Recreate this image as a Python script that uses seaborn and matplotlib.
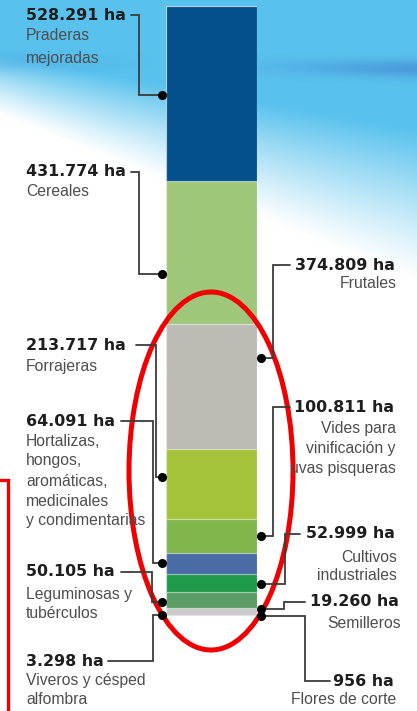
import numpy as np
import pandas as pd
import matplotlib
matplotlib.use("Agg")
import matplotlib.pyplot as plt
from matplotlib.patches import Ellipse
import seaborn as sns

# ---------------- data ----------------
categories = ["Praderas mejoradas", "Cereales", "Frutales", "Forrajeras",
              "Vides para vinificación y uvas pisqueras",
              "Hortalizas, hongos, aromáticas, medicinales y condimentarias",
              "Cultivos industriales", "Leguminosas y tubérculos",
              "Semilleros", "Viveros y césped alfombra", "Flores de corte"]
hectares = [528291, 431774, 374809, 213717, 100811, 64091, 52999, 50105,
            19260, 3298, 956]
label_lines = [["Praderas", "mejoradas"], ["Cereales"], ["Frutales"], ["Forrajeras"],
               ["Vides para", "vinificación y", "uvas pisqueras"],
               ["Hortalizas,", "hongos,", "aromáticas,", "medicinales", "y condimentarias"],
               ["Cultivos", "industriales"], ["Leguminosas y", "tubérculos"],
               ["Semilleros"], ["Viveros y césped", "alfombra"], ["Flores de corte"]]
colors = ["#03508c", "#9ec77b", "#bcbcb4", "#a5c23b", "#80b64c", "#4b6ba6",
          "#1f9b4b", "#5b9b66", "#cacaca", "#b9b9b9", "#b0b0b0"]

# ---------------- layout (pixels) ----------------
W, H = 417, 711
# side, text x, value y, label ys, line start x, elbow x, anchor fraction in segment
layout = {
    "Praderas mejoradas": ("L", 26, 15, [35, 58], 131, 139, 0.51),
    "Cereales": ("L", 26, 172, [191], 131, 139, 0.65),
    "Frutales": ("R", 395, 265, [284], 290, 273, 0.27),
    "Forrajeras": ("L", 26, 345, [366], 136, 156, 0.40),
    "Vides para vinificación y uvas pisqueras": ("R", 394, 407, [429, 449, 469], 290, 273, 0.50),
    "Hortalizas, hongos, aromáticas, medicinales y condimentarias": ("L", 26, 421, [441, 461, 481, 501, 521], 121, 153, 0.50),
    "Cultivos industriales": ("R", 395, 534, [557, 576], 300, 285, 0.55),
    "Leguminosas y tubérculos": ("L", 26, 572, [594, 614], 121, 152, 0.60),
    "Semilleros": ("R", 399, 602, [623], 305, 284, 0.20),
    "Viveros y césped alfombra": ("L", 26, 661, [680, 700], 108, 153, 0.50),
    "Flores de corte": ("R", 394, 681, [700], 330, 305, 0.50),
}

sns.set_theme(style="white")
fig = plt.figure(figsize=(W / 100, H / 100), dpi=100)

# ---------------- background gradient ----------------
bg = fig.add_axes([0, 0, 1, 1], zorder=0)
yy, xx = np.mgrid[0:H, 0:W].astype(float)
y0 = 55 + 0.18 * xx
L = 60 + 0.22 * xx
a = np.clip(1 - (yy - y0) / L, 0, 1)
a = a ** 1.2
blue = np.array([0.35, 0.76, 0.93])
img = np.ones((H, W, 3)) * (1 - a[..., None]) + blue * a[..., None]
band = np.exp(-((yy - (64 + 0.01 * xx)) / 9.0) ** 2) * np.clip((xx - 230) / 180, 0, 1) * 0.45
dark = np.array([0.22, 0.42, 0.78])
img = img * (1 - band[..., None]) + dark * band[..., None]
band0 = np.exp(-((yy - 62) / 10.0) ** 2) * np.clip((170 - xx) / 170, 0, 1) * 0.25
img = img * (1 - band0[..., None]) + np.array([0.25, 0.6, 0.85]) * band0[..., None]
band2 = np.exp(-((yy - 110) / 12.0) ** 2) * np.clip((xx - 250) / 170, 0, 1) * 0.35
img = img * (1 - band2[..., None]) + blue * band2[..., None]
bg.imshow(img, extent=[0, W, H, 0], aspect="auto")
bg.set_xlim(0, W)
bg.set_ylim(H, 0)
bg.axis("off")

# ---------------- stacked bar ----------------
bar_top, bar_bottom, bar_left, bar_right = 6, 616, 166, 257
axb = fig.add_axes([bar_left / W, (H - bar_bottom) / H, (bar_right - bar_left) / W,
                    (bar_bottom - bar_top) / H], zorder=1)
cum_end = np.cumsum(hectares)
cum_start = cum_end - np.array(hectares)
df = pd.DataFrame({"grp": [""] * len(categories), "cat": categories, "cum": cum_end})
order = categories[::-1]
sns.barplot(data=df, x="grp", y="cum", hue="cat", hue_order=order, dodge=False,
            palette=dict(zip(categories, colors)), width=1, legend=False, ax=axb,
            saturation=1, edgecolor=(1, 1, 1, 0.5), linewidth=0.9)
axb.set_xlim(-0.5, 0.5)
axb.set_ylim(cum_end[-1], 0)
axb.axis("off")

# ---------------- annotations ----------------
ov = fig.add_axes([0, 0, 1, 1], zorder=2)
ov.set_xlim(0, W)
ov.set_ylim(H, 0)
ov.axis("off")
ov.patch.set_alpha(0)

fig.canvas.draw()

def data_to_px(yval):
    disp = axb.transData.transform((0, yval))
    return H - disp[1]

line_col = "#3c3c3c"
for i, cat in enumerate(categories):
    side, tx, vy, lys, ls, el, frac = layout[cat]
    dot_y = data_to_px(cum_start[i] + frac * hectares[i])
    dot_x = 162 if side == "L" else 261
    ha = "left" if side == "L" else "right"
    val = f"{hectares[i]:,}".replace(",", ".") + " ha"
    ov.text(tx, vy, val, ha=ha, va="center", fontsize=11.4, fontweight="bold",
            family="DejaVu Sans", color="#1e1e1e")
    for txt, ly in zip(label_lines[i], lys):
        ov.text(tx + (0 if side == "L" else 2), ly, txt, ha=ha, va="center",
                fontsize=11.3, family="Liberation Sans", color="#4e4e4e")
    ov.plot([ls, el, el, dot_x], [vy, vy, dot_y, dot_y], color=line_col, lw=1.3,
            solid_joinstyle="miter")
    ov.plot([dot_x], [dot_y], "o", color="black", markersize=5.5)

# ---------------- red highlight marks ----------------
ov.add_patch(Ellipse((211, 471), 164, 358, fill=False, edgecolor="#f00000", lw=3.6))
ov.plot([0, 8, 8], [480, 480, 711], color="#f00000", lw=2.4, solid_joinstyle="miter")

fig.savefig("out.png", dpi=100)
